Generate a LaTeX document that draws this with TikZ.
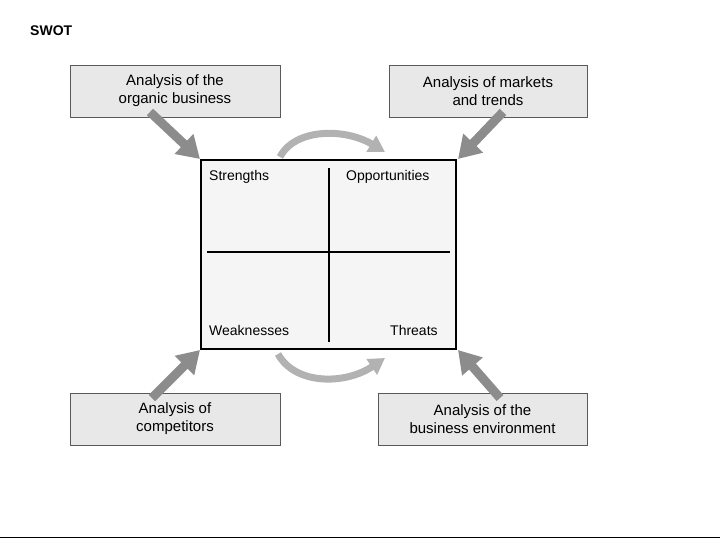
\documentclass[tikz,border=0pt]{standalone}
\usepackage{fontspec}
\setmainfont{Liberation Sans}
\usetikzlibrary{arrows.meta}
\begin{document}
\begin{tikzpicture}[x=1pt,y=-1pt,
  box/.style={draw=gray!70!black,fill=gray!18,line width=0.8pt,minimum width=210pt,minimum height=52pt,align=center,font=\fontsize{15}{18}\selectfont,inner sep=0pt},
  big/.style={draw=gray!90,line width=9pt,-{Triangle[length=22pt,width=26pt]}},
  curv/.style={draw=gray!60,line width=7pt,-{Triangle[length=16pt,width=18pt]}},
  lab/.style={font=\fontsize{14}{16}\selectfont,anchor=base west,inner sep=0pt}]
\useasboundingbox (0,0) rectangle (720,540);
\node[font=\bfseries\fontsize{14}{16}\selectfont,anchor=base west,inner sep=0pt] (title) at (30,36) {SWOT};
\node[box] (tl) at (175,91) {Analysis of the\\organic business};
\node[box,minimum width=198pt] (tr) at (488,91) {Analysis of markets\\and trends};
\node[box] (bl) at (175,419) {Analysis of\\competitors};
\node[box,minimum width=209pt] (br) at (482.5,419) {Analysis of the\\business environment};
\node[draw=black,fill=gray!8,line width=1.5pt,minimum width=255pt,minimum height=189pt,inner sep=0pt] (c) at (328.5,254.5) {};
\coordinate (v1) at (329,168); \coordinate (v2) at (329,342);
\coordinate (h1) at (207,252); \coordinate (h2) at (450,252);
\draw[line width=1.5pt] (v1) -- (v2);
\draw[line width=1.5pt] (h1) -- (h2);
\node[lab] (s) at (209,181) {Strengths};
\node[lab] (o) at (346,181) {Opportunities};
\node[lab] (w) at (209,335) {Weaknesses};
\node[lab] (t) at (390,335) {Threats};
\coordinate (a1) at (150,112); \coordinate (a1e) at (200,159);
\coordinate (a2) at (503,112); \coordinate (a2e) at (458,159);
\coordinate (a3) at (152,398); \coordinate (a3e) at (200,350);
\coordinate (a4) at (500,398); \coordinate (a4e) at (458,350);
\draw[big] (a1) -- (a1e);
\draw[big] (a2) -- (a2e);
\draw[big] (a3) -- (a3e);
\draw[big] (a4) -- (a4e);
\coordinate (c1) at (280,157); \coordinate (c1e) at (385,152);
\coordinate (c2) at (278,354); \coordinate (c2e) at (385,358);
\draw[curv] (c1) .. controls (295,128) and (345,128) .. (c1e);
\draw[curv] (c2) .. controls (295,385) and (345,385) .. (c2e);
\coordinate (l1) at (0,537); \coordinate (l2) at (720,537);
\draw[line width=0.8pt] (l1) -- (l2);
\end{tikzpicture}
\end{document}
